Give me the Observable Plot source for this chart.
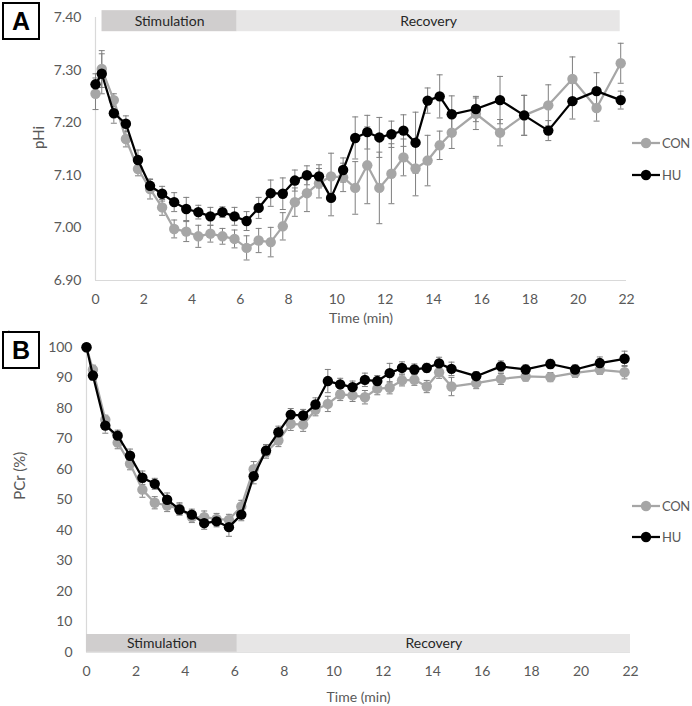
<!DOCTYPE html>
<html><head><meta charset="utf-8">
<script src="https://cdn.jsdelivr.net/npm/d3@7"></script>
<script src="https://cdn.jsdelivr.net/npm/@observablehq/plot@0.6"></script>
<style>
body{margin:0;background:#fff;font-family:Lato,sans-serif;}
#wrap{position:relative;width:692px;height:706px;overflow:hidden;}
.panel{position:absolute;left:0;}
.box{position:absolute;left:2px;width:34px;height:34px;border:2px solid #000;font:bold 25px "Liberation Sans",Arial,sans-serif;display:flex;align-items:center;justify-content:center;color:#000;background:#fff;}
.leg{position:absolute;display:flex;align-items:center;font:13px Lato,sans-serif;color:#595959;height:16px;letter-spacing:-0.3px;white-space:nowrap;}
.leg svg{margin-right:2px;}
</style></head><body>
<div id="wrap"></div>
<script>
// ---- data ----
const time = [0,0.26,0.76,1.26,1.76,2.26,2.76,3.26,3.76,4.26,4.76,5.26,5.76,6.26,6.76,7.26,7.76,8.26,8.76,9.26,9.76,10.26,10.76,11.26,11.76,12.26,12.76,13.26,13.76,14.26,14.76,15.76,16.76,17.76,18.76,19.76,20.76,21.76];

const seriesNames = ["CON", "HU"];
const seriesColors = ["#a6a6a6", "#000000"];

const phiCON = [7.255,7.302,7.243,7.169,7.112,7.074,7.039,6.998,6.993,6.984,6.989,6.984,6.979,6.962,6.976,6.973,7.003,7.049,7.066,7.085,7.098,7.096,7.076,7.119,7.076,7.103,7.134,7.113,7.128,7.157,7.181,7.217,7.181,7.214,7.233,7.283,7.228,7.313];
const phiCONerr = [0.03,0.035,0.012,0.015,0.013,0.019,0.015,0.017,0.019,0.021,0.016,0.015,0.017,0.023,0.023,0.028,0.026,0.027,0.035,0.028,0.044,0.027,0.05,0.073,0.068,0.057,0.035,0.052,0.048,0.027,0.03,0.03,0.025,0.038,0.039,0.042,0.025,0.038];
const phiHU = [7.273,7.293,7.218,7.198,7.129,7.080,7.065,7.049,7.036,7.030,7.022,7.030,7.022,7.013,7.038,7.066,7.065,7.090,7.100,7.098,7.057,7.110,7.171,7.182,7.172,7.178,7.185,7.162,7.242,7.250,7.216,7.226,7.243,7.214,7.185,7.241,7.260,7.243];
const phiHUerr = [0.02,0.038,0.019,0.015,0.019,0.012,0.014,0.018,0.022,0.013,0.017,0.01,0.017,0.018,0.02,0.025,0.03,0.02,0.018,0.022,0.034,0.023,0.04,0.032,0.038,0.025,0.03,0.058,0.024,0.041,0.035,0.024,0.045,0.038,0.019,0.034,0.035,0.017];

const pcrCON = [100,92.6,76.2,68.7,61.8,53.3,49.0,48.1,47.0,44.3,44.3,43.7,43.4,47.8,60.0,65.6,69.4,74.9,74.6,79.5,81.4,84.5,84.2,83.6,86.4,86.7,89.1,89.3,87.1,91.8,87.1,88.2,89.6,90.4,90.2,91.6,92.6,91.8];
const pcrCONerr = [0,1.5,1.5,2.0,2.0,2.5,2.0,2.0,2.0,1.8,2.0,1.8,1.8,2.0,2.5,2.0,2.0,2.2,2.2,2.0,2.5,2.0,2.0,2.2,2.0,2.0,1.8,1.8,2.0,2.0,3.0,1.8,1.8,1.5,1.5,1.5,1.5,2.2];
const pcrHU = [100,90.7,74.3,71.0,64.4,57.2,55.2,50.0,46.8,45.1,42.3,42.9,41.0,45.1,57.7,66.1,72.1,77.9,77.6,81.2,88.9,87.8,86.9,89.3,88.9,91.5,93.2,92.7,93.2,94.7,92.9,90.5,93.7,92.7,94.5,92.7,94.8,96.2];
const pcrHUerr = [0,1.5,2.5,1.8,2.2,2.2,1.8,2.2,1.8,1.8,2.0,1.8,3.0,2.0,2.5,2.0,2.0,2.0,2.0,2.2,3.8,2.0,2.0,2.2,1.8,3.2,2.0,1.8,1.5,2.0,2.2,1.5,1.8,1.5,1.5,1.5,2.0,2.5];

const xTicks = [0,2,4,6,8,10,12,14,16,18,20,22];
const phiTicks = [6.9,7.0,7.1,7.2,7.3,7.4];
const pcrTicks = [0,10,20,30,40,50,60,70,80,90,100];

const phaseLabels = ["Stimulation", "Recovery"];
const phaseColors = ["#d0cece", "#e7e6e6"];
const phaseStartA = [0.27, 5.87];
const phaseEndA = [5.87, 21.74];
const phaseStartB = [0, 6.1];
const phaseEndB = [6.1, 22];

// ---- helpers ----
const rows = (vals, errs, s) => time.map((t, i) => ({t, v: vals[i], e: errs[i], s}));
const capSymbol = {draw(ctx) { ctx.moveTo(-3, 0); ctx.lineTo(3, 0); }};
const axisColor = "#d9d9d9", textColor = "#595959", errColor = "#7f7f7f";

function panel({series, yDomain, yTicks, yFmt, phases, bandY, height, mt, mb, ml, mr, yLabel, yLabelDx, titleDy}) {
  const marks = [
    Plot.ruleX([0], {y1: yDomain[0], y2: yDomain[1], stroke: axisColor, strokeWidth: 1.2}),
    Plot.ruleY([yDomain[0]], {x1: 0, x2: 22, stroke: axisColor, strokeWidth: 1.2}),
    Plot.rect(phases, {x1: "x1", x2: "x2", y1: bandY[0], y2: bandY[1], fill: "fill"}),
    Plot.text(phases, {x: d => (d.x1 + d.x2) / 2, y: (bandY[0] + bandY[1]) / 2, text: "label", fill: "#262626", fontSize: 14, fontFamily: "Lato"}),
    Plot.axisX({ticks: xTicks, tickSize: 0, tickPadding: 14, fontSize: 14, fill: textColor, fontFamily: "Lato"}),
    Plot.axisY({ticks: yTicks, tickSize: 0, tickPadding: 14, fontSize: 14, fill: textColor, tickFormat: yFmt, fontFamily: "Lato"}),
    Plot.text(["Time (min)"], {frameAnchor: "bottom", lineAnchor: "middle", dy: titleDy, text: d => d, fontSize: 14, fill: textColor, fontFamily: "Lato"}),
    Plot.text([yLabel], {frameAnchor: "left", lineAnchor: "middle", dx: yLabelDx, rotate: -90, text: d => d, fontSize: 15, fill: textColor, fontFamily: "Lato"})
  ];
  series.forEach((data) => {
    const eb = data.filter(d => d.e > 0);
    marks.push(
      Plot.ruleX(eb, {x: "t", y1: d => d.v - d.e, y2: d => d.v + d.e, stroke: errColor, strokeWidth: 1}),
      Plot.dot(eb, {x: "t", y: d => d.v - d.e, symbol: capSymbol, stroke: errColor, fill: "none", strokeWidth: 1}),
      Plot.dot(eb, {x: "t", y: d => d.v + d.e, symbol: capSymbol, stroke: errColor, fill: "none", strokeWidth: 1})
    );
  });
  series.forEach((data, i) => {
    marks.push(
      Plot.line(data, {x: "t", y: "v", stroke: seriesColors[i], strokeWidth: 2.25}),
      Plot.dot(data, {x: "t", y: "v", r: 5.2, fill: seriesColors[i], stroke: "none"})
    );
  });
  return Plot.plot({
    width: 692, height, marginTop: mt, marginBottom: mb, marginLeft: ml, marginRight: mr,
    style: {background: "#fff", overflow: "visible"},
    x: {domain: [0, 22]},
    y: {domain: yDomain},
    marks
  });
}

const phasesA = phaseLabels.map((label, i) => ({label, fill: phaseColors[i], x1: phaseStartA[i], x2: phaseEndA[i]}));
const phasesB = phaseLabels.map((label, i) => ({label, fill: phaseColors[i], x1: phaseStartB[i], x2: phaseEndB[i]}));

const plotA = panel({
  series: [rows(phiCON, phiCONerr, "CON"), rows(phiHU, phiHUerr, "HU")],
  yDomain: [6.9, 7.4], yTicks: phiTicks, yFmt: d3.format(".2f"),
  phases: phasesA, bandY: [7.373, 7.413],
  height: 328, mt: 17, mb: 48, ml: 95, mr: 66,
  yLabel: "pHi", yLabelDx: -56, titleDy: 38
});
const plotB = panel({
  series: [rows(pcrCON, pcrCONerr, "CON"), rows(pcrHU, pcrHUerr, "HU")],
  yDomain: [0, 100], yTicks: pcrTicks, yFmt: d3.format("d"),
  phases: phasesB, bandY: [0, 5.8],
  height: 378, mt: 18.7, mb: 54.3, ml: 86, mr: 62,
  yLabel: "PCr (%)", yLabelDx: -66, titleDy: 45
});

const wrap = document.getElementById("wrap");
function place(node, top) {
  const d = document.createElement("div");
  d.className = "panel"; d.style.top = top + "px";
  d.appendChild(node); wrap.appendChild(d);
}
place(plotA, 0);
place(plotB, 328);

function box(letter, top) {
  const b = document.createElement("div");
  b.className = "box"; b.style.top = top + "px"; b.textContent = letter;
  wrap.appendChild(b);
}
box("A", 2);
box("B", 331);

function legend(left, tops) {
  seriesNames.forEach((name, i) => {
    const l = document.createElement("div");
    l.className = "leg"; l.style.left = left + "px"; l.style.top = (tops[i] - 8) + "px";
    const c = seriesColors[i];
    l.innerHTML = `<svg width="28" height="14"><line x1="0" y1="7" x2="28" y2="7" stroke="${c}" stroke-width="2.25"/><circle cx="14" cy="7" r="5.2" fill="${c}"/></svg><span>${name}</span>`;
    wrap.appendChild(l);
  });
}
legend(632, [143, 175]);
legend(632, [506, 537]);
</script>
</body></html>
